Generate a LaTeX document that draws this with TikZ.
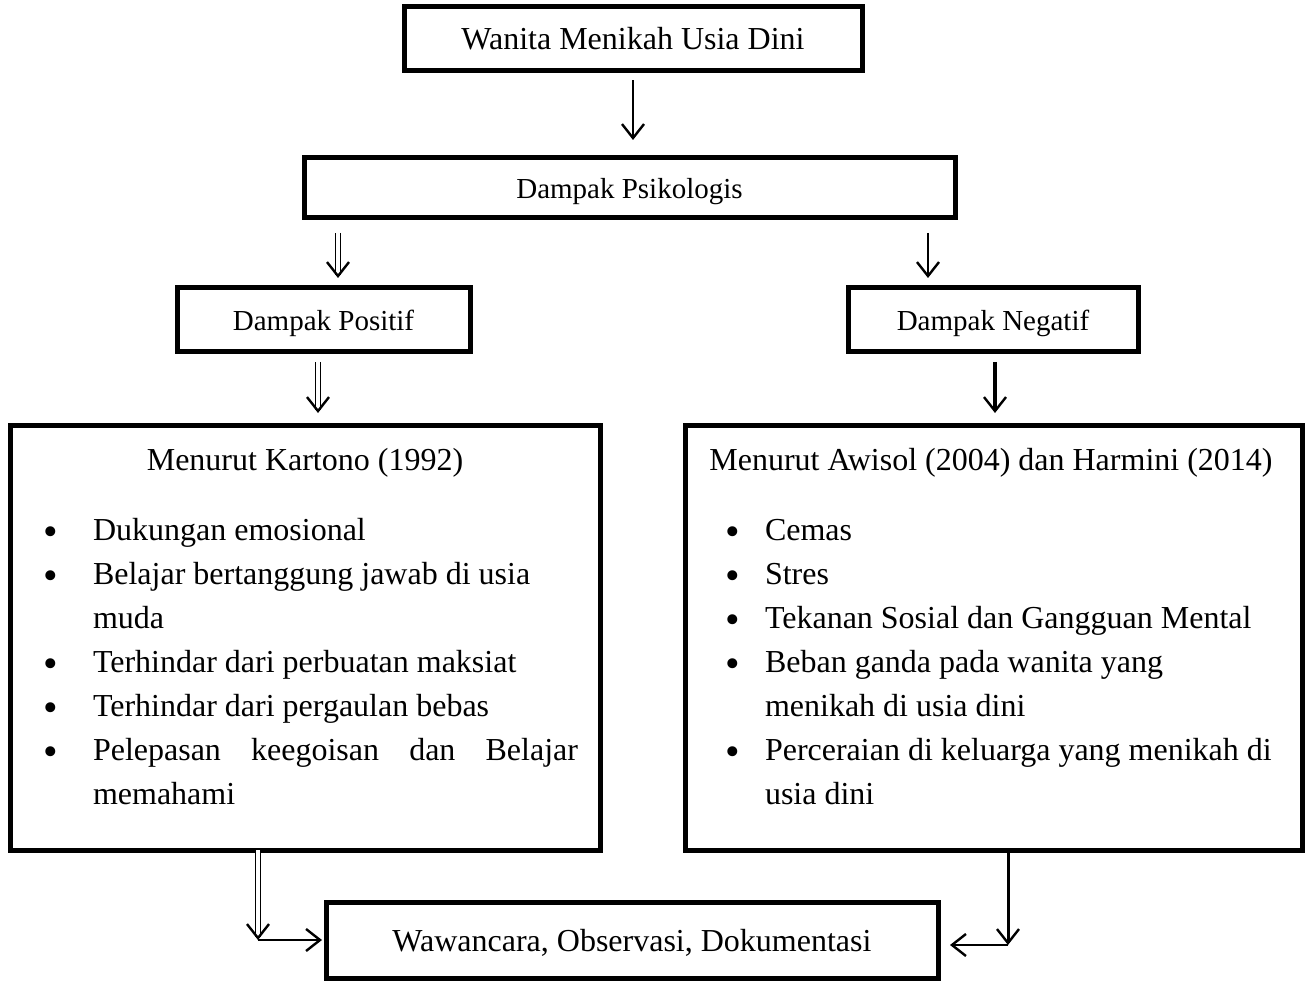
\documentclass[tikz,border=0pt]{standalone}
\usepackage{fontspec}
\setmainfont{Liberation Serif}
\usetikzlibrary{arrows.meta}

\newcommand{\bul}{\raisebox{-2.5pt}{\scalebox{1.3}{\textbullet}}}

\begin{document}
\begin{tikzpicture}[x={(0.5pt,0pt)},y={(0pt,-0.5pt)},
  every node/.style={inner sep=0pt, outer sep=0pt, font=\fontsize{16}{22}\selectfont},
  box/.style={draw, line width=2.5pt, text depth=0pt},
  small/.style={font=\fontsize{14.5}{20}\selectfont},
  lbl/.style={anchor=base},
  item/.style={anchor=base west},
  arr/.style={line width=1.2pt, -{Straight Barb[length=7pt,width=11pt,line width=1.2pt]}},
  dblarr/.style={double, double distance=1.6pt, line width=0.8pt, -{Straight Barb[length=7pt,width=11pt,line width=1.2pt]}}]

\useasboundingbox (0,0) rectangle (1307,984);

\node[box, minimum width=229pt, minimum height=32pt] (wanita) at (633,38.5) {Wanita Menikah Usia Dini};
\node[box, small, minimum width=325.5pt, minimum height=30pt] (psik) at (629.5,188) {Dampak Psikologis};
\node[box, small, minimum width=146.5pt, minimum height=32pt] (pos) at (323.5,320) {Dampak Positif};
\node[box, small, minimum width=145pt, minimum height=32pt] (neg) at (993,320) {Dampak Negatif};
\node[box, minimum width=295pt, minimum height=212.5pt] (kartono) at (305,637.5) {};
\node[box, minimum width=308.5pt, minimum height=212.5pt] (awisol) at (993.5,637.5) {};
\node[box, minimum width=306pt, minimum height=38pt] (wawan) at (632,940) {Wawancara, Observasi, Dokumentasi};

% isi kotak kiri
\node[lbl] (kt) at (305,470) {Menurut Kartono (1992)};
\node[lbl] (kb1) at (51,540) {\bul};
\node[item] (k1) at (93,540) {Dukungan emosional};
\node[lbl] (kb2) at (51,584) {\bul};
\node[item] (k2) at (93,584) {Belajar bertanggung jawab di usia};
\node[item] (k2b) at (93,628) {muda};
\node[lbl] (kb3) at (51,672) {\bul};
\node[item] (k3) at (93,672) {Terhindar dari perbuatan maksiat};
\node[lbl] (kb4) at (51,716) {\bul};
\node[item] (k4) at (93,716) {Terhindar dari pergaulan bebas};
\node[lbl] (kb5) at (51,760) {\bul};
\node[item] (k5) at (93,760) {\makebox[242.5pt][s]{Pelepasan keegoisan dan Belajar}};
\node[item] (k5b) at (93,804) {memahami};

% isi kotak kanan
\node[lbl] (at) at (991,470) {Menurut Awisol (2004) dan Harmini (2014)};
\node[lbl] (ab1) at (733,540) {\bul};
\node[item] (a1) at (765,540) {Cemas};
\node[lbl] (ab2) at (733,584) {\bul};
\node[item] (a2) at (765,584) {Stres};
\node[lbl] (ab3) at (733,628) {\bul};
\node[item] (a3) at (765,628) {Tekanan Sosial dan Gangguan Mental};
\node[lbl] (ab4) at (733,672) {\bul};
\node[item] (a4) at (765,672) {Beban ganda pada wanita yang};
\node[item] (a4b) at (765,716) {menikah di usia dini};
\node[lbl] (ab5) at (733,760) {\bul};
\node[item] (a5) at (765,760) {Perceraian di keluarga yang menikah di};
\node[item] (a5b) at (765,804) {usia dini};

% panah
\draw[arr, shorten <=5pt, shorten >=9pt] (wanita.south) -- (wanita.south |- psik.north);
\draw[dblarr, shorten <=7.5pt, shorten >=5pt] (psik.south -| 338,0) -- (pos.north -| 338,0);
\draw[arr, shorten <=7.5pt, shorten >=5pt] (psik.south -| 928,0) -- (neg.north -| 928,0);
\draw[dblarr, shorten <=5pt, shorten >=6pt] (pos.south -| 318,0) -- (kartono.north -| 318,0);
\draw[arr, line width=1.6pt, shorten <=5pt, shorten >=6pt] (neg.south -| 995,0) -- (awisol.north -| 995,0);

\coordinate (kl) at (258,940);
\coordinate (ar) at (1008,945);
\draw[dblarr] (kartono.south -| kl) -- (kl);
\draw[arr, shorten >=2pt] (kl) -- (wawan.west);
\draw[arr, line width=1.5pt] (awisol.south -| ar) -- (ar);
\draw[arr, shorten >=6pt] (ar) -- (wawan.east |- ar);
\end{tikzpicture}
\end{document}
